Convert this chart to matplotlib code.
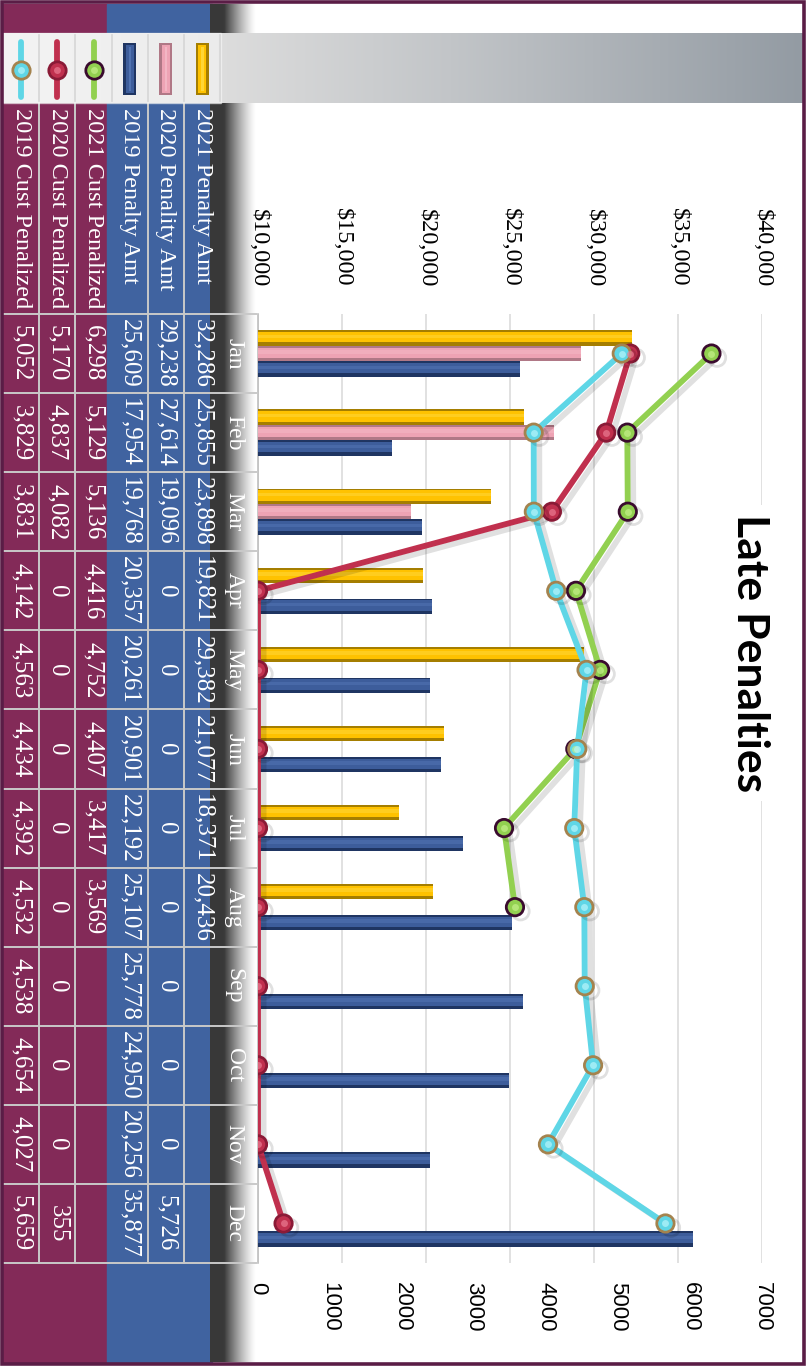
import numpy as np
import matplotlib
matplotlib.use("Agg")
import matplotlib.pyplot as plt
from matplotlib.patches import Rectangle
from matplotlib import patheffects as pe
from matplotlib.transforms import blended_transform_factory
from matplotlib.colors import to_rgb

# ---------------- data ----------------
months = ["Jan", "Feb", "Mar", "Apr", "May", "Jun",
          "Jul", "Aug", "Sep", "Oct", "Nov", "Dec"]

penalty_2021 = [32286, 25855, 23898, 19821, 29382, 21077, 18371, 20436,
                None, None, None, None]
penalty_2020 = [29238, 27614, 19096, 0, 0, 0, 0, 0, 0, 0, 0, 5726]
penalty_2019 = [25609, 17954, 19768, 20357, 20261, 20901, 22192, 25107,
                25778, 24950, 20256, 35877]

cust_2021 = [6298, 5129, 5136, 4416, 4752, 4407, 3417, 3569,
             None, None, None, None]
cust_2020 = [5170, 4837, 4082, 0, 0, 0, 0, 0, 0, 0, 0, 355]
cust_2019 = [5052, 3829, 3831, 4142, 4563, 4434, 4392, 4532,
             4538, 4654, 4027, 5659]

amount_ticks = [10000, 15000, 20000, 25000, 30000, 35000, 40000]
count_ticks = [0, 1000, 2000, 3000, 4000, 5000, 6000, 7000]

row_names = ["2019 Cust Penalized", "2020 Cust Penalized", "2021 Cust Penalized",
             "2019 Penalty Amt", "2020 Penality Amt", "2021 Penalty Amt"]
row_values = [cust_2019, cust_2020, cust_2021,
              penalty_2019, penalty_2020, penalty_2021]

# ---------------- styles ----------------
W, H = 807, 1369
PLOT_L, PLOT_R = 258, 762
PLOT_T, PLOT_B = 314, 1263
PURPLE = "#832a58"
BLUE = "#4063a0"
BORDER = "#5a1d46"
SERIF = "Liberation Serif"
SANS = "Liberation Sans"

bar_styles = {  # dark edge, body, highlight
    "2021": ("#a57e00", "#ffc200", "#ffe45a"),
    "2020": ("#b07886", "#eea3b4", "#f8c4d0"),
    "2019": ("#1f3562", "#3d5d9b", "#5f82c2"),
}
line_styles = {  # line/fill, marker edge, highlight
    "2021": ("#92d050", "#3a0b2e", "#c4f08a"),
    "2020": ("#c0304e", "#8a1a36", "#ea7b92"),
    "2019": ("#5fd6e6", "#a4834e", "#b8f4fb"),
}

fig = plt.figure(figsize=(W / 100, H / 100), dpi=100)
fig.patch.set_facecolor("white")

# full-figure canvas in pixel units for the table, legend and decorations
bg = fig.add_axes([0, 0, 1, 1])
bg.set_xlim(0, W)
bg.set_ylim(H, 0)
bg.axis("off")
bg.set_zorder(0)

ax = fig.add_axes([PLOT_L / W, 1 - PLOT_B / H, (PLOT_R - PLOT_L) / W,
                   (PLOT_B - PLOT_T) / H])
ax.set_zorder(2)
ax.set_facecolor("none")

cat = np.arange(len(months))
ax.set_ylim(len(months) - 0.5, -0.5)
ax.set_xlim(amount_ticks[0], amount_ticks[-1])

# ---------------- bars (primary axis) ----------------
bh = 0.195
bar_series = [("2021", penalty_2021, -bh), ("2020", penalty_2020, 0.0),
              ("2019", penalty_2019, bh)]
for key, vals, off in bar_series:
    dark, body, light = bar_styles[key]
    idx = np.array([i for i, v in enumerate(vals) if v is not None])
    w = np.array([vals[i] for i in idx], dtype=float)
    y = idx + off
    ax.barh(y, w, height=bh, color=dark, zorder=3, linewidth=0)
    ax.barh(y - bh * 0.05, w, height=bh * 0.66, color=body, zorder=3.1,
            linewidth=0)
    ax.barh(y - bh * 0.1, w, height=bh * 0.22, color=light, alpha=0.35,
            zorder=3.2, linewidth=0)

# ---------------- lines (secondary axis) ----------------
ax2 = ax.twiny()
ax2.set_zorder(2.5)
ax2.set_xlim(count_ticks[0], count_ticks[-1])
line_series = [("2021", cust_2021), ("2020", cust_2020), ("2019", cust_2019)]
for key, vals in line_series:
    col, edge, hi = line_styles[key]
    x = np.array([np.nan if v is None else v for v in vals], dtype=float)
    ax2.plot(x, cat, color=col, lw=4.2, marker="o", ms=12.5, mfc=col,
             mec=edge, mew=2.0, zorder=4, solid_capstyle="round",
             path_effects=[pe.SimpleLineShadow(offset=(4, -3), shadow_color="k",
                                               alpha=0.12), pe.Normal()])
    ax2.plot(x, cat, ls="none", marker="o", ms=5, mfc=hi, mec="none",
             alpha=0.7, zorder=4.1)

ax2.set_xticks(count_ticks)
ax2.set_xticklabels([str(v) for v in count_ticks])
ax2.xaxis.set_ticks_position("bottom")
ax2.xaxis.set_label_position("bottom")
ax2.tick_params(axis="x", length=0, pad=14, labelrotation=270, labelsize=16)
for lbl in ax2.get_xticklabels():
    lbl.set_family(SANS)
for s in ax2.spines.values():
    s.set_visible(False)

# primary value axis along the top
ax.set_xticks(amount_ticks)
ax.set_xticklabels([f"${v:,}" for v in amount_ticks])
ax.xaxis.set_ticks_position("top")
ax.xaxis.set_label_position("top")
ax.tick_params(axis="x", length=0, pad=19.5, labelrotation=270, labelsize=17.5,
               labeltop=True, labelbottom=False)
for lbl in ax.get_xticklabels():
    lbl.set_family(SERIF)
ax.set_yticks([])
ax.grid(axis="x", color="#d9d9d9", lw=1.1)
ax.set_axisbelow(True)
for s in ["top", "right", "bottom"]:
    ax.spines[s].set_visible(False)
ax.spines["left"].set_color("#bfbfbf")
ax.spines["left"].set_linewidth(1.2)

# ---------------- data table ----------------
row_w = 36.2
row_x0 = 3
row_cx = [row_x0 + row_w * (k + 0.5) for k in range(len(row_names))]

bg.add_patch(Rectangle((3, 4), 104, 1358, color=PURPLE, zorder=1))
bg.add_patch(Rectangle((107, 4), 105, 1358, color=BLUE, zorder=1))

# dark shaded strip carrying the month labels
strip = np.zeros((1, 120, 4))
xs = np.linspace(0, 1, 120)
strip[..., :3] = 0.22
strip[0, :, 3] = np.clip(1.0 - (xs - 0.3) / 0.68, 0, 1) ** 1.3
bg.imshow(strip, extent=[210, 257, 1362, 4], aspect="auto",
          interpolation="bilinear", zorder=1.5)

# grid of the table
cat_px = (PLOT_B - PLOT_T) / len(months)
for k in range(len(months) + 1):
    yy = PLOT_T + k * cat_px
    bg.plot([3, 256], [yy, yy], color="#c9c9c9", lw=1.4, zorder=2)
for k in [1, 2, 4, 5]:
    xx = row_x0 + row_w * k
    bg.plot([xx, xx], [103, PLOT_B], color="#c9c9c9", lw=1.4, zorder=2)

cell_tf = blended_transform_factory(bg.transData, ax.transData)
for cx, name, vals in zip(row_cx, row_names, row_values):
    bg.text(cx, 108, name, rotation=270, ha="center", va="top", color="white",
            fontsize=17.5, family=SERIF, zorder=3)
    for i, v in enumerate(vals):
        if v is None:
            continue
        bg.text(cx, i, f"{v:,}", transform=cell_tf, rotation=270, ha="center",
                va="center", color="white", fontsize=18, family=SERIF,
                zorder=3, clip_on=False)

for i, m in enumerate(months):
    bg.text(234, i, m, transform=cell_tf, rotation=270, ha="center",
            va="center", color="white", fontsize=17, family=SERIF,
            zorder=3, clip_on=False)

# ---------------- legend band ----------------
stops_x = [0.0, 0.28, 0.56, 1.0]
stops_c = [to_rgb("#f3f3f3"), to_rgb("#dcdcdc"), to_rgb("#c2c5c8"),
           to_rgb("#939ba3")]
gx = np.linspace(0, 1, 400)
band = np.stack([np.interp(gx, stops_x, [c[j] for c in stops_c])
                 for j in range(3)], axis=-1)[None, :, :]
bg.imshow(band, extent=[3, 803, 103, 33], aspect="auto",
          interpolation="bilinear", zorder=4)
bg.add_patch(Rectangle((3, 33), 218, 70, color="#f5f5f5", alpha=0.6,
                       zorder=4.1))
for k in range(1, 7):
    xx = row_x0 + row_w * k
    bg.plot([xx, xx], [35, 101], color="#d6d6d6", lw=1.2, zorder=4.2)

legend_keys = [("line", "2019"), ("line", "2020"), ("line", "2021"),
               ("bar", "2019"), ("bar", "2020"), ("bar", "2021")]
for cx, (kind, key) in zip(row_cx, legend_keys):
    if kind == "line":
        col, edge, hi = line_styles[key]
        bg.plot([cx, cx], [42, 97], color=col, lw=4.2, solid_capstyle="round",
                zorder=5)
        bg.plot([cx], [70], marker="o", ms=12.5, mfc=col, mec=edge, mew=2.0,
                zorder=5.1)
        bg.plot([cx], [70], marker="o", ms=5, mfc=hi, mec="none", alpha=0.7,
                zorder=5.2)
    else:
        dark, body, light = bar_styles[key]
        bg.add_patch(Rectangle((cx - 6.5, 43), 13, 52, fc=dark, ec="none",
                               zorder=5))
        bg.add_patch(Rectangle((cx - 4, 45), 8, 48, fc=body, ec="none",
                               zorder=5.1))
        bg.add_patch(Rectangle((cx - 1, 47), 2.5, 44, fc=light, ec="none",
                               alpha=0.6, zorder=5.2))

# ---------------- title and frame ----------------
fig.text(750 / W, 1 - 653 / H, "Late Penalties", rotation=270, ha="center",
         va="center", fontsize=32, fontweight="bold", family="Lato",
         zorder=6, bbox=dict(fc="white", ec="none", pad=6))

bg.add_patch(Rectangle((2, 2), 802, 1362, fill=False, ec=BORDER, lw=2.6,
                       zorder=7))

fig.savefig("out.png", dpi=100)
